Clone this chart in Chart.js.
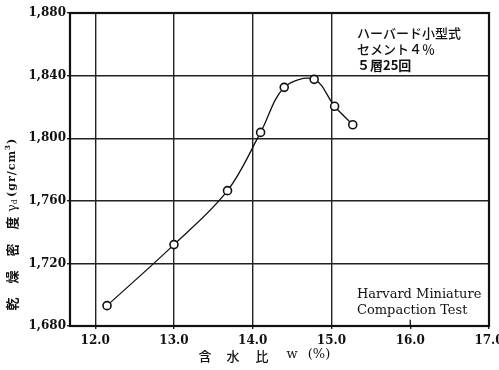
<!DOCTYPE html>
<html><head><meta charset="utf-8">
<script src="https://cdn.jsdelivr.net/npm/chart.js@4/dist/chart.umd.min.js"></script>
<style>html,body{margin:0;padding:0;background:#fff}#wrap{width:499px;height:370px}</style>
</head><body><div id="wrap"><canvas id="c" width="499" height="370"></canvas></div>
<script>
const waterContent = [12.15, 13.0, 13.68, 14.10, 14.40, 14.78, 15.04, 15.27];
const dryDensity   = [1693, 1732, 1766.5, 1803.7, 1832.5, 1837.6, 1820.4, 1808.6];
const xTicks = [12, 13, 14, 15, 16, 17];
const yTicks = [1680, 1720, 1760, 1800, 1840, 1880];
const xTickLabels = ["12.0", "13.0", "14.0", "15.0", "16.0", "17.0"];
const yTickLabels = ["1,680", "1,720", "1,760", "1,800", "1,840", "1,880"];
const noteTop = ["ハーバード小型式", "セメント４％", "５層25回"];
const noteBottom = ["Harvard Miniature", "Compaction Test"];

const serif = "'DejaVu Serif', serif";
const cjk = "'Noto Sans CJK JP', sans-serif";

const decor = {
  id: 'decor',
  beforeDatasetsDraw(chart) {
    const {ctx, chartArea: a, scales: {x, y}} = chart;
    ctx.save();
    ctx.fillStyle = '#fff';
    const bx = x.getPixelForValue(15.15);
    ctx.fillRect(bx, a.top + 1, a.right - bx - 1, y.getPixelForValue(1846) - a.top - 1);
    ctx.fillRect(bx, y.getPixelForValue(1704), a.right - bx - 1, a.bottom - y.getPixelForValue(1704) - 1);
    ctx.strokeStyle = '#111'; ctx.lineWidth = 1.3;
    const x16 = x.getPixelForValue(16);
    ctx.beginPath(); ctx.moveTo(x16, a.bottom); ctx.lineTo(x16, y.getPixelForValue(1684)); ctx.stroke();
    ctx.restore();
  },
  afterDraw(chart) {
    const {ctx, chartArea: a} = chart;
    ctx.save();
    ctx.strokeStyle = '#111'; ctx.lineWidth = 2.2;
    ctx.strokeRect(a.left, a.top, a.right - a.left, a.bottom - a.top);
    ctx.fillStyle = '#111';
    ctx.textBaseline = 'middle';
    ctx.textAlign = 'left';
    ctx.font = "500 13px " + cjk;
    ctx.fillText(noteTop[0], 357, 33);
    ctx.fillText(noteTop[1], 357, 49);
    ctx.font = "bold 13px " + cjk;
    ctx.fillText(noteTop[2], 357, 65);
    ctx.font = "13px " + serif;
    ctx.fillText(noteBottom[0], 357, 295);
    ctx.fillText(noteBottom[1], 357, 311);
    // x title
    ctx.textAlign = 'center';
    ctx.font = "500 13px " + cjk;
    ctx.fillText("含", 205, 356); ctx.fillText("水", 233, 356); ctx.fillText("比", 262, 356);
    ctx.font = "13px " + serif;
    ctx.fillText("w", 292, 355);
    ctx.fillText("(%)", 319, 355);
    // y title (rotated)
    ctx.translate(12, 0);
    ctx.rotate(-Math.PI / 2);
    ctx.font = "bold 13px " + cjk;
    ctx.fillText("乾", -304, 0); ctx.fillText("燥", -277, 0); ctx.fillText("密", -250, 0); ctx.fillText("度", -223, 0);
    ctx.font = "13px " + serif;
    ctx.fillText("γ", -208, 1);
    ctx.font = "8px " + serif;
    ctx.fillText("d", -202, 3);
    ctx.textAlign = 'left';
    ctx.letterSpacing = '1px';
    ctx.font = "bold 11px " + serif;
    const x0 = -197;
    ctx.fillText("(gr/cm", x0, 0);
    const w = ctx.measureText("(gr/cm").width;
    ctx.font = "bold 7px " + serif;
    ctx.fillText("3", x0 + w, -4);
    const w3 = ctx.measureText("3").width;
    ctx.font = "bold 11px " + serif;
    ctx.fillText(")", x0 + w + w3, 0);
    ctx.restore();
  }
};

new Chart(document.getElementById('c'), {
  type: 'scatter',
  data: {
    datasets: [{
      data: waterContent.map((v, i) => ({x: v, y: dryDensity[i]})),
      showLine: true,
      borderColor: '#111',
      borderWidth: 1.3,
      tension: 0.35,
      pointRadius: 4,
      pointBorderWidth: 1.6,
      pointBackgroundColor: '#fff',
      pointBorderColor: '#111'
    }]
  },
  options: {
    responsive: false,
    animation: false,
    devicePixelRatio: 1,
    layout: {padding: {top: 13, right: 10, left: 0, bottom: 0}},
    plugins: {legend: {display: false}, tooltip: {enabled: false}},
    scales: {
      x: {
        type: 'linear', min: 11.68, max: 17.0,
        afterBuildTicks: s => { s.ticks = xTicks.map(v => ({value: v})); },
        afterFit: s => { s.height = 44; s.paddingLeft = 0; s.paddingRight = 0; },
        ticks: {
          callback: (v) => xTickLabels[xTicks.indexOf(v)],
          color: '#111', font: {family: serif, size: 12, weight: 'bold'}, padding: 5, maxRotation: 0, autoSkip: false
        },
        grid: {
          color: ctx => (ctx.tick && (ctx.tick.value === 16 || ctx.tick.value === 17)) ? 'rgba(0,0,0,0)' : '#222',
          lineWidth: 1.4, tickLength: 3, tickColor: '#222'
        },
        border: {display: false}
      },
      y: {
        type: 'linear', min: 1680, max: 1880,
        afterBuildTicks: s => { s.ticks = yTicks.map(v => ({value: v})); },
        afterFit: s => { s.width = 70; s.paddingTop = 0; s.paddingBottom = 0; },
        ticks: {
          callback: (v) => yTickLabels[yTicks.indexOf(v)],
          color: '#111', font: {family: serif, size: 12, weight: 'bold'}, padding: 1
        },
        grid: {color: '#222', lineWidth: 1.4, tickLength: 3, tickColor: '#222'},
        border: {display: false}
      }
    }
  },
  plugins: [decor]
});
</script>
</body></html>
